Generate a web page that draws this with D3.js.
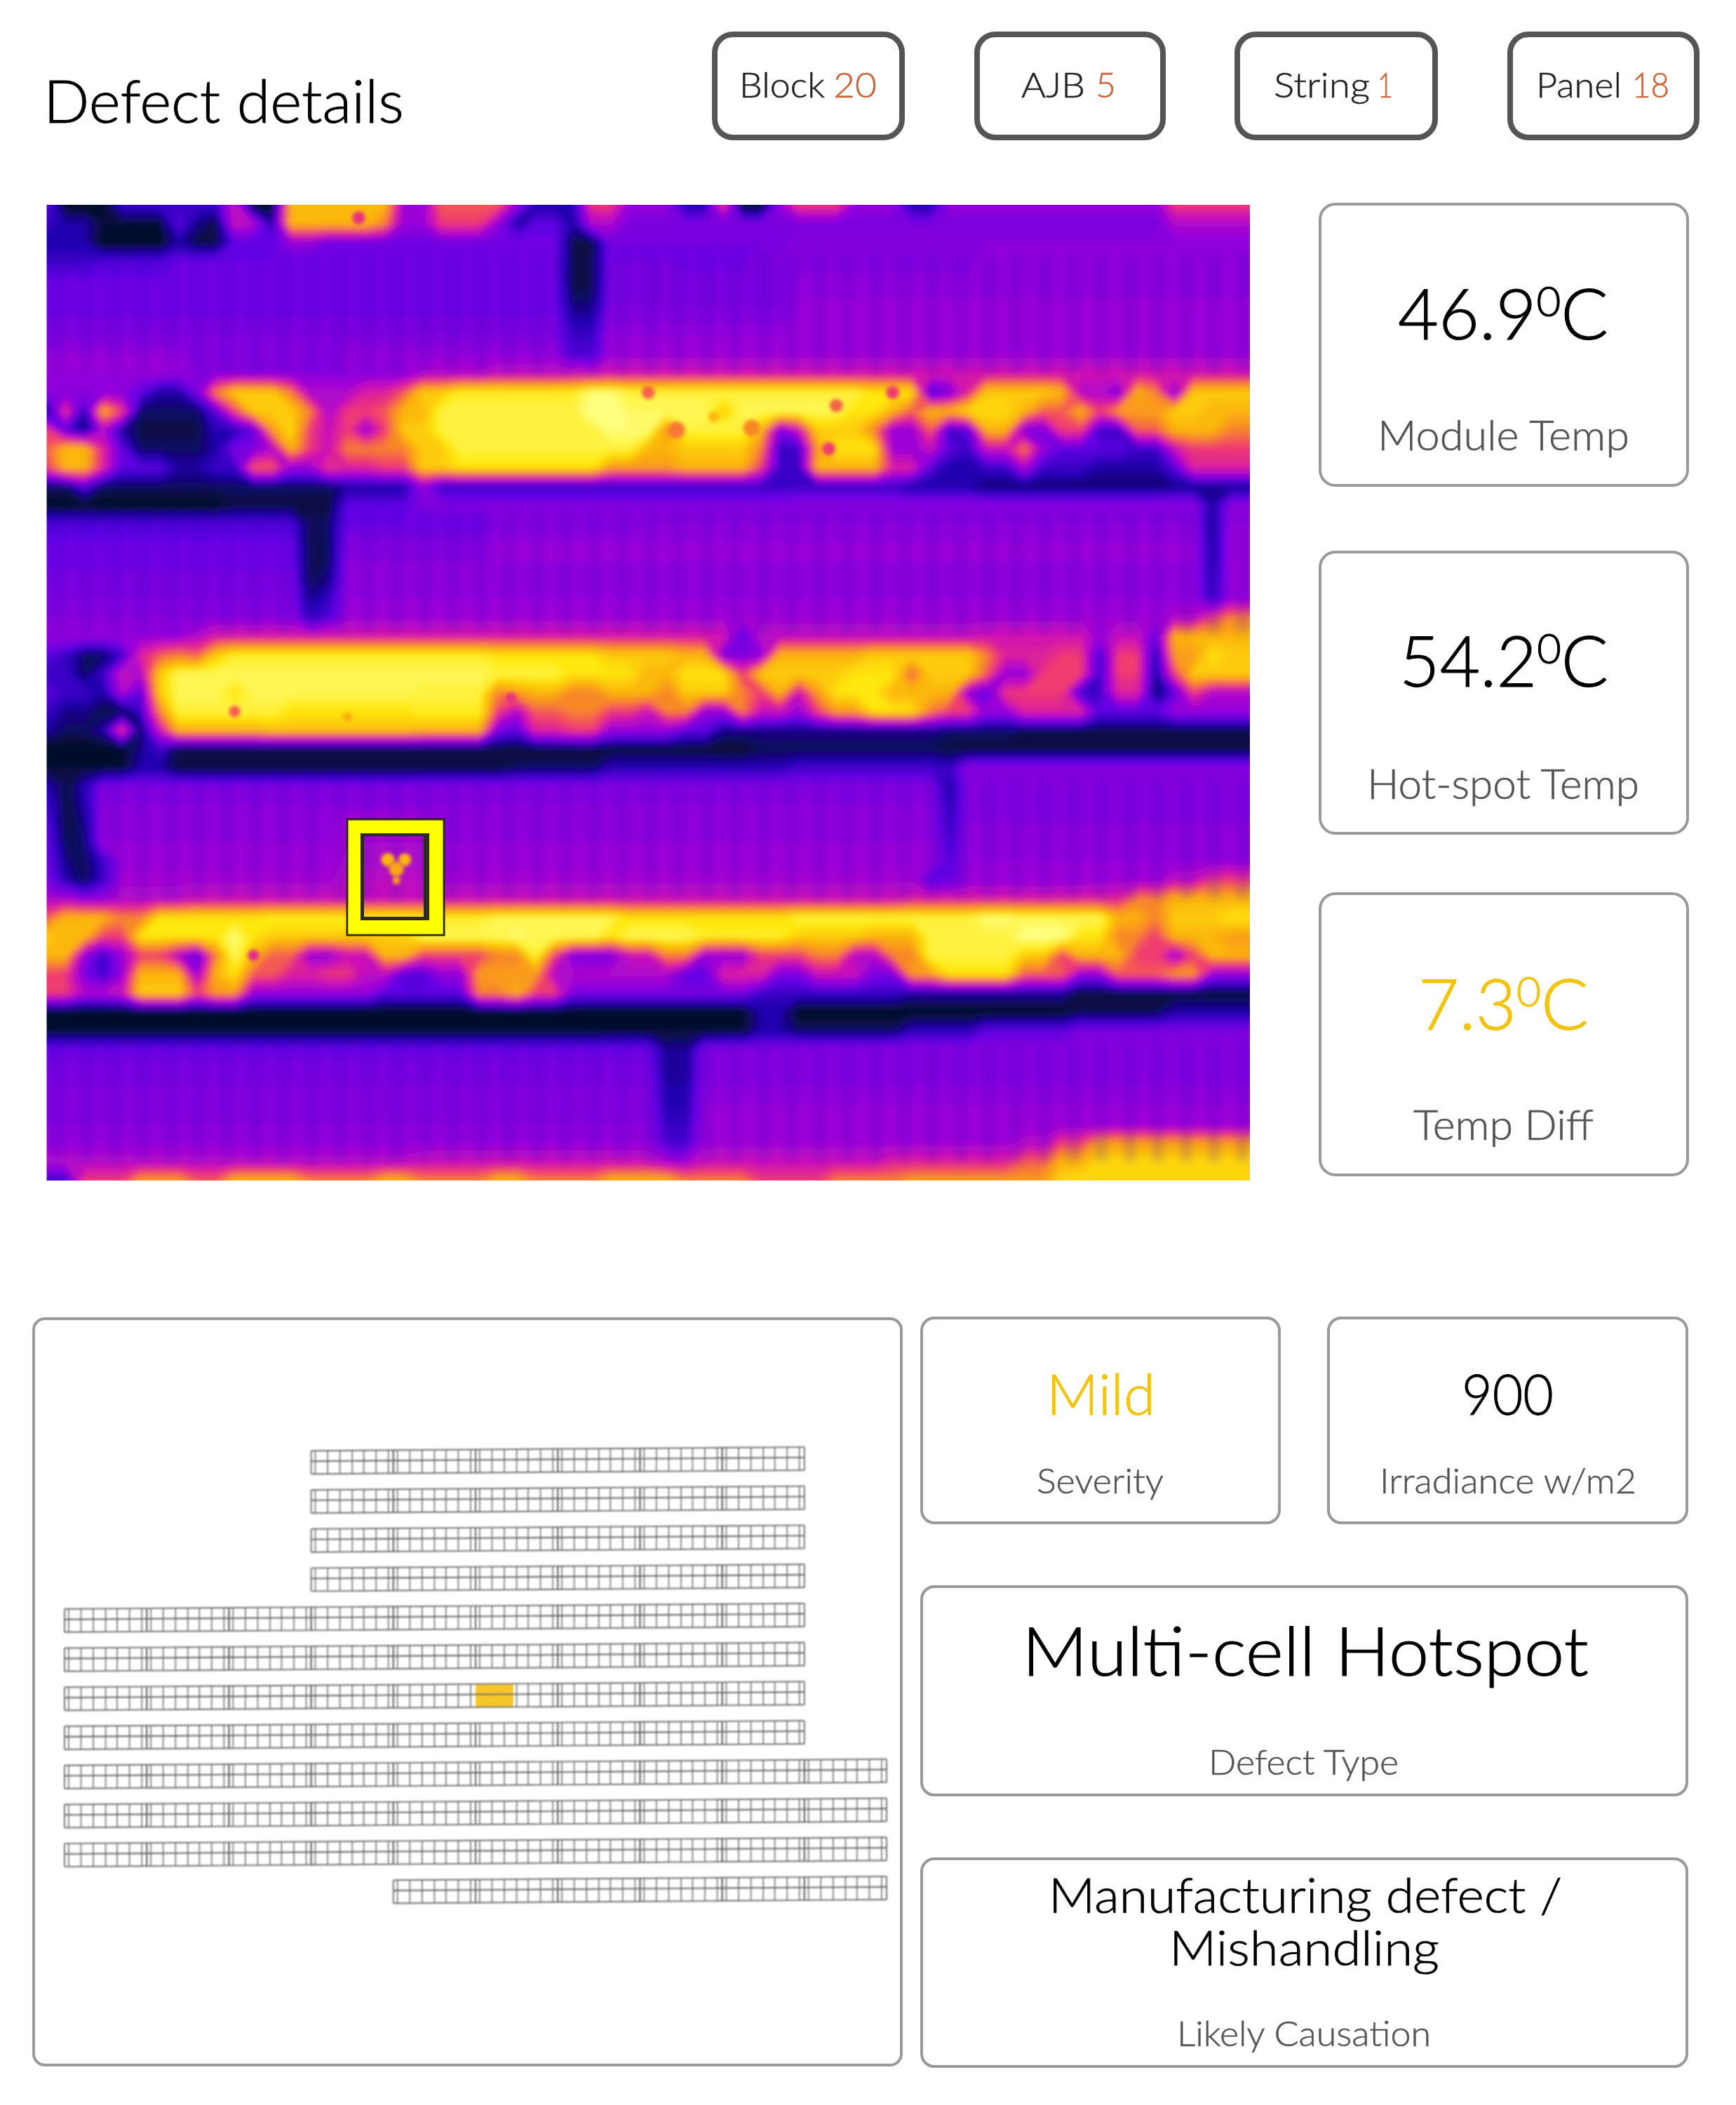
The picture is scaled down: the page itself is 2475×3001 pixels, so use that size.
<!DOCTYPE html>
<html><head><meta charset="utf-8">
<script src="https://cdn.jsdelivr.net/npm/d3@7"></script>
<style>html,body{margin:0;padding:0;background:#fff}svg{display:block}text{font-family:Lato,"Noto Sans",sans-serif}</style>
</head><body><svg id="c" width="2475" height="3001" xmlns="http://www.w3.org/2000/svg"></svg>
<script>
// ---------- data ----------
const titleText = "Defect details";
const badgeNames = ["Block","AJB","String","Panel"];
const badgeValues = ["20","5","1","18"];
const tempValues = ["46.9","54.2","7.3"];
const tempLabels = ["Module Temp","Hot-spot Temp","Temp Diff"];
const severityText = "Mild";
const irradianceText = "900";
const defectType = "Multi-cell Hotspot";
const causation = ["Manufacturing defect /","Mishandling"];
// thermal image: heat level at grid rows, "column:level" holds until the next column
const heatRows = [
"0:2 1:0 4:1.5 10:4 11:0 13:7 19:3 21:5.5 25:3 26:1 29:5 31:3 34:1 36:5 37:0 39:3 40:5 43:3 46:1 48:3 60:5",
"0:1.5 1:1 3:0.2 7:2 8:0.8 9:0.3 10:4 11:3.5 12:1 13:7 18:6 19:3 21:5 24:3 25:1 26:2 28:1 29:3.5 31:2.5 60:3.5",
"0:1 3:0 7:1 8:0.3 10:2 13:3 15:2.3 28:0.3 30:2.4 40:2.8",
"0:1.5 3:1.8 7:2.2 28:0.3 30:2.4 34:2.3 38:2.6 50:3",
"0:2.2 28:0.2 30:2.5 40:2.9",
"0:2.3 28:0.5 30:2.5 40:3",
"0:2.4 28:1 30:2.7 40:3",
"0:2.6 28:1.5 30:3",
"0:3 8:2.6 16:3 28:1.8 30:3.2",
"0:3 8:2.8 20:3.5 24:3.8 28:4 30:4.2",
"0:2.8 5:2 6:1 8:2.5 9:6 10:7.5 13:6 14:3.5 17:4.5 19:5.5 20:7.5 22:8.3 29:9 31:8.5 33:8.5 44:8 46:8 47:1.5 48:2.5 49:4.5 50:7.5 54:7 55:3.5 57:2.5 58:7 59:6 60:2.5 61:7.5",
"0:0.5 1:5 2:1 3:7 4:5 5:0.5 9:2 10:5 11:7.5 14:6 15:3.5 16:5 18:5.5 19:7 21:8.5 29:9.3 31:8.8 36:7.5 37:8.7 43:8 45:7 46:5.5 47:7 49:7.8 52:7 53:5.5 55:7 56:5 57:6.5 60:7.5 62:7",
"0:5 1:2 2:0.5 3:3.5 4:1 5:0.3 9:1.2 11:2 12:6.5 13:7.8 14:5 15:4 16:5 17:3 18:5 19:7.5 21:8.5 30:9 33:6 34:8.5 38:7 39:2.5 40:4 41:7.5 44:6 45:3 47:5.5 48:1.5 49:2 50:7 52:2.5 54:5 56:1.5 58:5.5 60:7 63:6",
"0:5.5 1:7.2 3:4.5 4:2 5:0.5 9:1 10:2.5 12:3.5 13:7 14:5 15:4 16:6 20:7.5 22:8.5 30:8.5 32:7 34:7.5 38:6 39:1.5 41:6.5 42:8 45:3 47:4 48:2 49:1.5 50:4 52:6 53:3 54:2 58:1.5 60:4 61:5",
"0:5 1:7 3:4.5 4:2 7:1 9:1.5 11:5.5 13:3 15:5 16:4.5 18:5 20:7.5 22:8 30:6.5 34:7 38:5 39:1.5 41:7 45:4.5 47:2 48:1 50:1.5 52:3.5 53:1.5 56:1 60:2 61:4.5",
"0:0.5 2:2 3:0.5 14:0.5 16:1 20:3 21:1.5 30:1.5 46:1 50:0.6 60:0.8",
"0:0 10:0.3 14:0.2 16:2 20:2.6 40:2.8 62:1 63:2.8",
"0:1.8 14:0.3 15:0.6 16:2.2 24:2.6 32:2.8 62:0.8 63:3",
"0:2.2 14:0.2 15:0.5 16:2.6 24:3 62:1 63:3",
"0:2.3 14:0.2 15:0.5 16:2.8 24:3 62:1 63:3",
"0:2.5 14:0.3 15:0.8 16:2.9 62:1.2 63:3",
"0:2.6 14:0.8 15:1.4 16:3 62:1.4 63:3",
"0:2.8 14:1.3 15:1.8 16:3.2 60:3.5 62:5 63:6",
"0:3 8:3.6 9:4.3 36:4.2 37:2 38:3.8 50:4.2 56:3 57:4 59:2 60:7",
"0:2 1:1.5 2:0.5 4:1.5 5:4.5 6:5.5 7:6 8:5.5 9:7.5 10:8.3 24:8 30:7.5 34:7 36:2.5 38:2.8 39:7 44:7.5 50:6 51:4.5 54:5 56:1.5 57:5 59:1 60:6.5 62:8 63:7.5",
"0:1.5 2:0.5 3:1.5 4:4 5:3.5 6:7.5 7:8.7 24:8.5 28:8 32:7 34:8 37:5 38:7.5 43:8 46:5.5 47:7.5 50:5.5 51:3 53:5 56:1.5 57:5 59:0.8 60:5 61:7.5",
"0:2 1:1.5 3:1 4:3.5 5:2 6:7.5 7:8.7 10:8 11:8.7 20:8.5 24:6 25:6.5 26:7 28:6 30:7 33:6 34:7.5 37:6 38:5 39:7 40:4 41:6.5 42:8 45:7 49:3 50:2 51:5 55:1.5 57:4.5 59:0.5 60:2 61:5 62:3.5",
"0:1.5 1:0.8 3:0.3 5:1.5 6:6 7:8.5 13:8 20:8.3 24:5 25:3.5 26:5.5 28:6 30:5 32:4 33:6 35:3 37:6 38:4 40:3 41:5 42:6.5 44:8 47:6 48:5 50:3 52:4.5 56:2 60:3",
"0:1 1:0.5 3:1 4:5 5:0.5 6:4 7:7 12:7.3 20:7 24:2.5 25:2 26:4.5 28:5 30:3 34:2 36:0.8 40:0.8 48:0.6 52:0.4",
"0:0 5:0.8 6:1.6 7:0.2 36:0.1 38:0.4 48:0.2",
"0:0.2 5:1 7:0.2 25:0.5 30:1.2 40:1.6 48:1.4 49:2.8",
"0:1.2 1:0.2 2:1.2 3:2.6 20:2.7 48:1 49:2.7",
"0:1.6 1:0.2 2:1 3:2.8 48:1.2 49:2.7",
"0:2 1:0.2 2:0.7 3:2.9 16:3.3 21:2.9 48:1.4 49:2.8",
"0:2.2 1:0.4 2:0.5 3:3 16:3.4 21:3 48:1.6 49:2.9",
"0:2.4 1:0.8 2:0.3 3:1.5 4:3.1 16:3.5 21:3.1 48:1.8 49:3",
"0:2.6 1:1.2 2:0.3 3:1.5 4:3.3 16:3.8 21:3.3 47:2.1 49:3 56:3.2 60:3.8 62:5",
"0:3.5 2:3 4:3.6 8:4 46:4.4 55:4.5 58:6 60:7",
"0:5.5 1:7 4:6 6:8 12:8.3 24:8.6 31:8 40:8.5 50:9 52:8.7 57:7 59:6 60:7.5 63:8",
"0:7.5 1:7 3:5 5:8 10:9 11:8 12:7.5 20:8.7 25:9 26:8.7 30:8 31:8.7 35:8.3 40:7.5 44:7 47:8.5 52:9.2 55:8 57:6 59:5 60:7 63:6.5",
"0:7 2:3 3:1.5 4:3 5:5 7:3.5 8:2 9:6 10:8.8 11:7 12:5.5 14:3 16:4 18:7 20:5 24:6 26:8.5 27:5 28:2.5 31:4 33:6 35:3 38:5 41:6 43:3.5 45:6 47:8.5 52:7.5 54:5 55:7 58:5 60:3 61:5 62:7",
"0:5 2:2.5 3:1.5 4:3 5:7 8:3 9:7 10:8 11:5.5 13:4.5 15:5 17:3.8 19:1.8 21:3 23:6.5 27:3.5 34:2 36:4.5 39:2.5 41:4 44:2.5 46:6.5 48:8 52:5.5 55:3 57:5.5 60:6.5 62:3",
"0:5 2:3.5 4:4 5:7.5 8:5 9:6.5 11:3 18:2 23:6 25:7 26:5 28:2.5 38:1.5 46:1 55:0.2",
"0:0 38:1 40:0 55:0.4 60:1",
"0:0.1 30:0.2 38:1 40:0.5 46:1.2 50:2 55:2.5",
"0:2.2 33:0.8 35:2.6 40:2.8",
"0:2.5 33:0.8 35:2.7",
"0:2.6 33:1 35:2.8",
"0:2.7 33:1.1 35:3",
"0:2.8 33:1.4 35:3",
"0:3 33:1.7 35:3.2 52:3.6 54:5 56:6.5",
"0:3.6 20:4 33:3.3 35:4 45:4.5 52:5.5 54:7 56:7.8",
"0:1.5 2:5 5:6.5 8:5.5 10:7 14:6 18:7 20:6 24:7 26:6 30:7 34:6 38:5 42:6 46:6.5 54:7.8"
];
const heatLevels = [0,1,2,3,4,5,6,7,8,9];
const heatColors = ["#06102a","#2000b0","#6400e4","#9a04d8","#cc10b8","#f03c70","#f88828","#fcb808","#ffe810","#ffff80"];
// small spots on the image: column, row, radius in columns, heat level
const hotDots = [[16.6,.7,.35,4.8],[32,10,.35,5.5],[33.5,12,.45,5.8],[35.5,11.3,.3,7],[37.5,11.9,.45,6],[42,10.7,.35,5.5],[45,10,.35,5],[41.6,13,.35,5],
 [10,27,.3,5.4],[24.7,26.3,.3,4.8],[16,27.3,.25,6.8],[11,40,.3,4.6],[18.15,34.9,.36,7],[19.05,34.9,.34,7],[18.6,35.4,.4,6.6],[18.6,36,.22,6.4]];
const panelBands = [[2.6,9],[16.4,22.8],[30.6,37],[44.6,51]];
// site plan
const rowStart = [3,3,3,3,0,0,0,0,0,0,0,4];
const rowCount = [6,6,6,6,9,9,9,9,10,10,10,6];
const cellLines = [0,.05,.2,.35,.5,.64,.79,.94,1];
const defectRow = 6, defectCol = 5, defectSpan = .46;

// ---------- layout ----------
const svg = d3.select("#c");
const defs = svg.append("defs");
const INK="#000", GREY="#555", ORANGE="#c8663a", GOLD="#f2c40f", RULE="#999";
function text(x0,x1,y,size,fill,str){
  return svg.append("text").attr("x",x0-4).attr("y",y).attr("font-size",size).attr("fill",fill)
    .attr("font-weight",300).attr("stroke",fill).attr("stroke-width",size*.011)
    .attr("textLength",x1-x0+4).attr("lengthAdjust","spacingAndGlyphs").text(str);
}
function card(x0,y0,x1,y1,w,r,col){
  svg.append("rect").attr("x",x0).attr("y",y0).attr("width",x1-x0).attr("height",y1-y0)
    .attr("rx",r).attr("fill","#fff").attr("stroke",col||RULE).attr("stroke-width",w);
}
text(66,576,175,85,"#000",titleText);

// badges
const badgeBox = [[1018,1290],[1392,1662],[1763,2050],[2152,2423]];
const badgeNameX = [[1058,1176],[1460,1547],[1820,1953],[2194,2312]];
const badgeValX = [[1192,1250],[1566,1591],[1968,1986],[2331,2380]];
badgeNames.forEach((n,i)=>{
  card(badgeBox[i][0]+1,49,badgeBox[i][1]-4,196,8,26,"#555");
  text(badgeNameX[i][0],badgeNameX[i][1],139,50,"#222",n);
  text(badgeValX[i][0],badgeValX[i][1],139,50,ORANGE,badgeValues[i]);
});

// ---------- thermal image ----------
const nc=65,nr=53;
const imgX=d3.scaleLinear().domain([0,64]).range([66.5,1782]);
const imgY=d3.scaleLinear().domain([0,52]).range([292,1683]);
const heatColor=d3.scaleLinear().domain(heatLevels).range(heatColors).clamp(true);
const levelAt=heatRows.map(s=>{
  const p=s.split(" ").map(t=>t.split(":").map(Number));
  const out=[];let k=0;
  for(let c=0;c<nc;c++){ while(k+1<p.length&&p[k+1][0]<=c)k++; out.push(p[k][1]); }
  return out;
});
// one repeated row/column round the edge so the contours run past the clip
const W=nc+2,H=nr+2,flat=new Array(W*H);
for(let j=0;j<H;j++)for(let i=0;i<W;i++){
  flat[j*W+i]=levelAt[Math.min(nr-1,Math.max(0,j-1))][Math.min(nc-1,Math.max(0,i-1))];
}
const thresholds=d3.range(0,9.5,0.2);
const contours=d3.contours().size([W,H]).smooth(true).thresholds(thresholds)(flat);
// contour samples sit at i+.5, padded by one
const gx=v=>imgX(v-1.5), gy=v=>imgY(v-1.5);
const proj=d3.geoTransform({point(x,y){this.stream.point(gx(x),gy(y));}});
const geo=d3.geoPath(proj);
defs.append("clipPath").attr("id","imgClip").append("rect")
  .attr("x",imgX(0)).attr("y",imgY(0)).attr("width",imgX(64)-imgX(0)).attr("height",imgY(52)-imgY(0));
const blur=(id,s)=>defs.append("filter").attr("id",id).attr("x","-5%").attr("y","-5%").attr("width","110%").attr("height","110%")
  .attr("filterUnits","objectBoundingBox").append("feGaussianBlur").attr("stdDeviation",s);
blur("soft",5);blur("streak",6);blur("plan",.85);
defs.append("filter").attr("id","dot").attr("x","-60%").attr("y","-60%").attr("width","220%").attr("height","220%")
  .append("feGaussianBlur").attr("stdDeviation",2.6);
const imgG=svg.append("g").attr("clip-path","url(#imgClip)");
const heat=imgG.append("g").attr("filter","url(#soft)");
heat.selectAll("path").data(contours).join("path")
  .attr("d",geo).attr("fill",d=>heatColor(d.value)).attr("stroke",d=>heatColor(d.value)).attr("stroke-width",.6);
// vertical cell streaks in the panel bodies
const streakCols=d3.range(0.6,64,1.5);
panelBands.forEach(b=>{
  imgG.append("g").attr("filter","url(#streak)").selectAll("line").data(streakCols).join("line")
   .attr("x1",d=>imgX(d)).attr("x2",d=>imgX(d)).attr("y1",imgY(b[0])).attr("y2",imgY(b[1]))
   .attr("stroke","#3000c8").attr("stroke-opacity",.18).attr("stroke-width",14);
});
imgG.append("g").selectAll("circle").data(hotDots).join("circle")
  .attr("filter","url(#dot)")
  .attr("cx",d=>imgX(d[0])).attr("cy",d=>imgY(d[1])).attr("r",d=>imgX(d[2])-imgX(0))
  .attr("fill",d=>heatColor(d[3]));
// detection box
(function(){
  const bx=495,by=1168,bw=138,bh=165; // outer
  svg.append("rect").attr("x",bx).attr("y",by).attr("width",bw).attr("height",bh)
    .attr("fill","none").attr("stroke","#2a2a10").attr("stroke-width",3);
  svg.append("path").attr("fill-rule","evenodd").attr("fill","#ffff00")
    .attr("d",`M${bx+1.5} ${by+1.5}h${bw-3}v${bh-3}h${-(bw-3)}z M${bx+19} ${by+20}v${124}h${98}v${-124}z`);
  svg.append("path").attr("fill-rule","evenodd").attr("fill","#2e2a20")
    .attr("d",`M${bx+19} ${by+20}h98v124h-98z M${bx+24} ${by+24}v${115}h${85}v${-115}z`);
})();

// ---------- temperature cards ----------
const tempCardY=[[291,692],[787,1188],[1274,1675]];
const tempBaseline=[484,979,1468], tempLabelBase=[642,1139,1625];
const tempValX=[[1997,2293],[1999,2293],[2026,2265]];
const tempLabX=[[1968,2323],[1953,2337],[2019,2272]];
tempValues.forEach((v,i)=>{
  card(1882,tempCardY[i][0],2406,tempCardY[i][1],4,22);
  const col=i==2?GOLD:INK;
  const t=text(tempValX[i][0],tempValX[i][1],tempBaseline[i],100,col,"");
  t.append("tspan").text(v);
  t.append("tspan").attr("font-size",60).attr("dy",-33).text("0");
  t.append("tspan").attr("dy",33).text("C");
  text(tempLabX[i][0],tempLabX[i][1],tempLabelBase[i],59,GREY,tempLabels[i]);
});

// ---------- site plan ----------
card(48,1880,1285,2944,4,16);
const px=d3.scaleLinear().domain([0,10]).range([92,1264]);
const rowY=d3.scaleLinear().domain([0,11]).range([2071,2684]);
const slope=-8/1058, modH=33;
const py=(r,x,f)=>rowY(r)+slope*(x-px(0))+f*modH;
const plan=svg.append("g").attr("filter","url(#plan)");
const mods=[];
rowStart.forEach((s,r)=>d3.range(s,s+rowCount[r]).forEach(c=>mods.push({r,c})));
// highlighted defect panel
const dx0=px(defectCol),dx1=px(defectCol+defectSpan);
plan.append("path").attr("fill","#f7c72c")
  .attr("d",d3.line()([[dx0,py(defectRow,dx0,0)],[dx1,py(defectRow,dx1,0)],[dx1,py(defectRow,dx1,1)],[dx0,py(defectRow,dx0,1)]]));
const gMod=plan.selectAll("g").data(mods).join("g");
gMod.each(function(m){
  const g=d3.select(this);
  cellLines.forEach(f=>{
    const x=px(m.c+f);
    if(m.r==defectRow&&x>=dx0&&x<dx1)return;
    g.append("line").attr("x1",x).attr("x2",x).attr("y1",py(m.r,x,0)).attr("y2",py(m.r,x,1))
      .attr("stroke","#666").attr("stroke-opacity",f==0||f==1?.9:.75).attr("stroke-width",2);
  });
  [0,.45,1].forEach(f=>{
    const a=px(m.c),b=px(m.c+1);
    g.append("line").attr("x1",a).attr("x2",b).attr("y1",py(m.r,a,f)).attr("y2",py(m.r,b,f))
      .attr("stroke","#666").attr("stroke-opacity",.85).attr("stroke-width",f==.45?2.4:2.2);
  });
});

// ---------- info cards ----------
card(1314,1879,1824,2171,4,18);
card(1894,1879,2405,2171,4,18);
card(1314,2262,2405,2559,4,18);
card(1314,2650,2405,2946,4,18);
text(1496,1647,2017,80,GOLD,severityText);
text(1482,1659,2129,50,GREY,"Severity");
text(2088,2215,2017,80,INK,irradianceText);
text(1971,2333,2129,50,GREY,"Irradiance w/m2");
text(1461,2265,2389,97,INK,defectType);
text(1727,1994,2530,50,GREY,"Defect Type");
text(1499,2227,2727,68,INK,causation[0]);
text(1671,2052,2802,68,INK,causation[1]);
text(1682,2040,2917,50,GREY,"Likely Causation");
</script></body></html>
